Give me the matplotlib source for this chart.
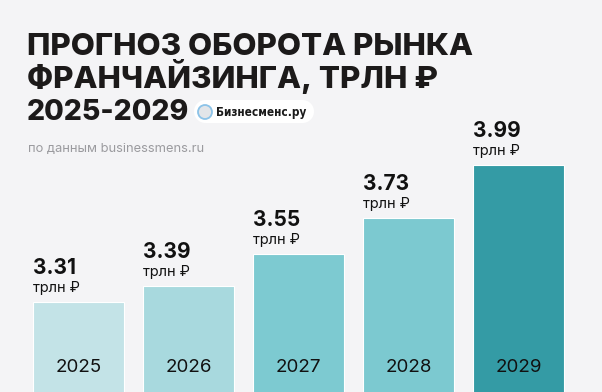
import matplotlib
matplotlib.use('Agg')
import matplotlib.pyplot as plt
from matplotlib.patches import Rectangle, Circle

years = ['2025', '2026', '2027', '2028', '2029']
values = [3.31, 3.39, 3.55, 3.73, 3.99]
colors = ['#c3e3e7', '#a8d9de', '#7dcad1', '#7cc9d0', '#349ba5']

title_lines = ['ПРОГНОЗ ОБОРОТА РЫНКА', 'ФРАНЧАЙЗИНГА, ТРЛН ₽', '2025-2029']
title_sizes = [22.5, 22.5, 20.5]
subtitle = 'по данным businessmens.ru'
unit = 'трлн ₽'
logo_text = 'Бизнесменс.ру'

W, H = 602, 392
bg = '#f4f4f6'
fam = ['Inter', 'DejaVu Sans']

fig = plt.figure(figsize=(W / 100, H / 100), dpi=100, facecolor=bg)

# bars area: bottom of the picture, 132..392 px
ax = fig.add_axes([0, 0, 1, 260 / H])
ax.set_facecolor(bg)
x = list(range(len(years)))
bars = ax.bar(x, values, width=0.83, color=colors, edgecolor='white', linewidth=0.8)
ax.set_xlim(-78.5 / 110, (W - 78.5) / 110)
ax.set_ylim(2.864, 2.864 + 260 / 201.4)
ax.axis('off')

for b, v, yr in zip(bars, values, years):
    left = b.get_x()
    top = b.get_height()
    ax.annotate(f'{v:.2f}', (left, top), xytext=(0, 28), textcoords='offset pixels',
                fontsize=15, fontweight='bold', family=fam, color='#111111',
                ha='left', va='baseline')
    ax.annotate(unit, (left, top), xytext=(0, 10), textcoords='offset pixels',
                fontsize=10.5, family=fam, color='#111111', ha='left', va='baseline')
    ax.annotate(yr, (b.get_x() + b.get_width() / 2, 2.864), xytext=(0, 20),
                textcoords='offset pixels', fontsize=13.5, family=fam,
                color='#111111', ha='center', va='baseline')

# overlay in pixel coords for the header
top_ax = fig.add_axes([0, 0, 1, 1], facecolor='none')
top_ax.set_xlim(0, W)
top_ax.set_ylim(H, 0)
top_ax.axis('off')

for i, (line, fs) in enumerate(zip(title_lines, title_sizes)):
    top_ax.text(27, 55 + i * 32.5, line, fontsize=fs, fontweight='heavy',
                family=fam, color='#1c1a1a', ha='left', va='baseline')

top_ax.text(28, 152, subtitle, fontsize=9.3, family=fam, color='#9b9b9f',
            ha='left', va='baseline')

# logo pill: rectangle with round ends
pill_c = 'white'
r = 11.5
top_ax.add_patch(Rectangle((194 + r, 100), 120 - 2 * r, 23, facecolor=pill_c,
                           edgecolor='none', zorder=2))
top_ax.add_patch(Circle((194 + r, 111.5), r, facecolor=pill_c, edgecolor='none', zorder=2))
top_ax.add_patch(Circle((314 - r, 111.5), r, facecolor=pill_c, edgecolor='none', zorder=2))
top_ax.add_patch(Circle((205, 112), 7, facecolor='#e2e5e9', edgecolor='#8cc3e8',
                        linewidth=1.3, zorder=3))
top_ax.text(216, 116, logo_text, fontsize=8.5, fontweight='bold', fontstretch='condensed',
            family=['DejaVu Sans'], color='#1a1a1a',
            ha='left', va='baseline', zorder=4)

fig.savefig('out.png', dpi=100, facecolor=bg)
